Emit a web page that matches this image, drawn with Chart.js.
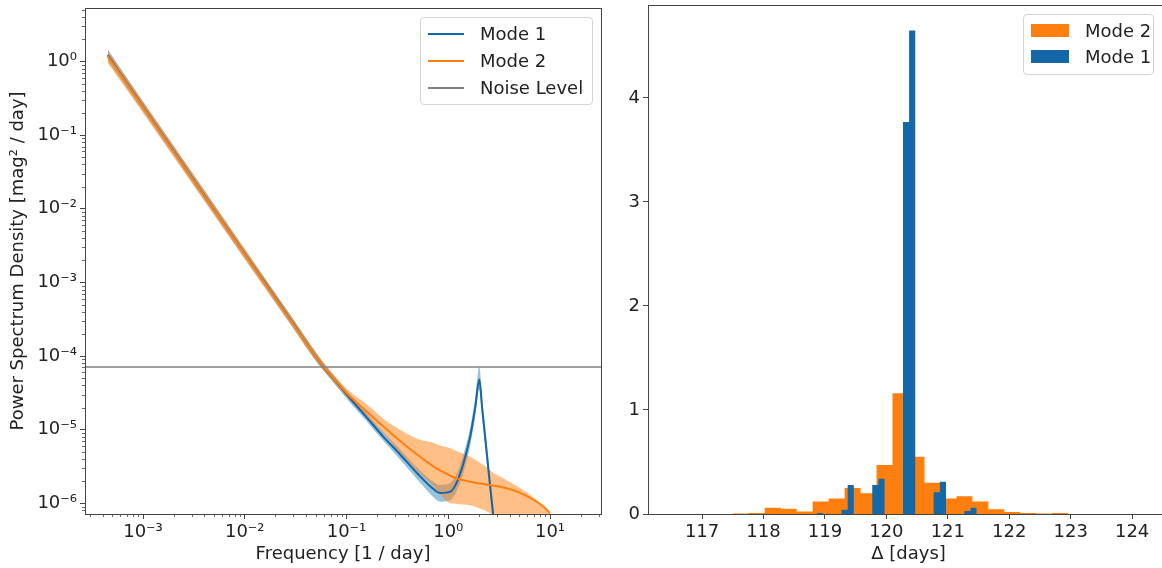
<!DOCTYPE html>
<html>
<head>
<meta charset="utf-8">
<script src="https://cdn.jsdelivr.net/npm/chart.js@4.4.1/dist/chart.umd.min.js"></script>
<style>
  html, body { margin: 0; padding: 0; background: #fff; overflow: hidden; width: 1162px; height: 568px; }
  #psdChart { position: absolute; left: 0; top: 0; }
  #histChart { position: absolute; left: 600px; top: 0; }
  .legend {
    position: absolute; box-sizing: border-box;
    background: rgba(255, 255, 255, 0.8); border: 1px solid #d4d4d4; border-radius: 4px;
    font-family: 'DejaVu Sans', sans-serif; font-size: 18px; color: #222;
  }
  .legend .row { display: flex; align-items: center; white-space: nowrap; }
  #psdLegend { left: 420px; top: 17px; width: 173px; height: 88px; padding-top: 2px; }
  #psdLegend .row { height: 27px; }
  #psdLegend .handle { width: 36px; height: 2px; margin: 0 16px 0 7px; }
  #histLegend { left: 1023px; top: 14px; width: 131px; height: 61px; padding-top: 2px; }
  #histLegend .row { height: 26.5px; }
  #histLegend .handle { width: 38px; height: 13px; margin: 0 16px 0 7px; }
</style>
</head>
<body>
<canvas id="psdChart" width="610" height="568"></canvas>
<canvas id="histChart" width="572" height="568"></canvas>
<div id="psdLegend" class="legend"></div>
<div id="histLegend" class="legend"></div>
<script>
// Power spectrum (left panel)
const freqs = [4.5e-4, 1e-3, 3e-3, 1e-2, 3e-2, 0.045, 0.0574, 0.08, 0.105, 0.159, 0.231, 0.337, 0.49, 0.72, 0.83, 1.05,
    1.22, 1.41, 1.64, 1.84, 2.02, 2.15, 2.3, 2.5, 2.75, 3.26, 4.78, 7.0, 8.7, 10.0];
const mode1Psd = [1.22, 0.245, 0.0272, 2.45e-3, 2.75e-4, 1.21e-4, 7.6e-5, 4.4e-5, 2.8e-5, 1.45e-5, 8e-6, 4.6e-6, 2.6e-6, 1.55e-6, 1.38e-6, 1.44e-6,
    1.96e-6, 3.5e-6, 8e-6, 2.0e-5, 4.8e-5, 2.0e-5, 8.1e-6, 2.6e-6, 7.4e-7, 7.5e-8, 1e-8, 4e-9, 3e-9, 2.5e-9];
const mode1Lo = [1.02, 0.21, 0.0235, 2.12e-3, 2.4e-4, 1.05e-4, 6.7e-5, 3.9e-5, 2.45e-5, 1.28e-5, 7e-6, 3.9e-6, 2.15e-6, 1.2e-6, 1.05e-6, 1.1e-6,
    1.5e-6, 2.6e-6, 6e-6, 1.5e-5, 3.5e-5, 1.5e-5, 6e-6, 1.9e-6, 5.3e-7, 5e-8, 7e-9, 3e-9, 2e-9, 1.8e-9];
const mode1Hi = [1.45, 0.285, 0.0315, 2.82e-3, 3.15e-4, 1.38e-4, 8.6e-5, 4.95e-5, 3.15e-5, 1.65e-5, 9.2e-6, 5.4e-6, 3.1e-6, 1.95e-6, 1.78e-6, 1.9e-6,
    2.6e-6, 4.6e-6, 1.05e-5, 2.7e-5, 7.2e-5, 2.7e-5, 1.1e-5, 3.5e-6, 1e-6, 1e-7, 1.4e-8, 5.5e-9, 4e-9, 3.5e-9];
const mode2Psd = [1.18, 0.24, 0.0268, 2.42e-3, 2.72e-4, 1.21e-4, 7.7e-5, 4.46e-5, 2.96e-5, 1.75e-5, 1.1e-5, 7.0e-6, 4.63e-6, 3.15e-6, 2.8e-6, 2.37e-6,
    2.18e-6, 2.06e-6, 1.96e-6, 1.9e-6, 1.87e-6, 1.85e-6, 1.82e-6, 1.79e-6, 1.75e-6, 1.68e-6, 1.44e-6, 1.1e-6, 8.9e-7, 7.4e-7];
const mode2Lo = [0.95, 0.2, 0.0225, 2.05e-3, 2.35e-4, 1.04e-4, 6.7e-5, 3.9e-5, 2.55e-5, 1.45e-5, 8.9e-6, 4.8e-6, 2.8e-6, 1.7e-6, 1.35e-6, 1.0e-6,
    9.8e-7, 9.6e-7, 9.4e-7, 9e-7, 8.6e-7, 8.3e-7, 8e-7, 7.5e-7, 7e-7, 6e-7, 4e-7, 2.5e-7, 1.8e-7, 1.5e-7];
const mode2Hi = [1.42, 0.285, 0.032, 2.85e-3, 3.15e-4, 1.38e-4, 8.7e-5, 5.0e-5, 3.4e-5, 2.2e-5, 1.4e-5, 1.0e-5, 7.6e-6, 6.6e-6, 6.1e-6, 5.6e-6,
    5.1e-6, 4.7e-6, 4.3e-6, 3.9e-6, 3.6e-6, 3.4e-6, 3.2e-6, 2.9e-6, 2.6e-6, 2.3e-6, 1.7e-6, 1.18e-6, 9.2e-7, 7.4e-7];
const noiseLevel = 7.1e-5;
const freqRange = [2.69e-4, 31.7];
const psdRange = [7.16e-7, 5.32];
const freqTicks = [1e-3, 1e-2, 1e-1, 1, 10];
const psdTicks = [1e-6, 1e-5, 1e-4, 1e-3, 1e-2, 1e-1, 1];

// Time delay histogram (right panel)
const mode2Edges = [117.50, 117.76, 118.02, 118.28, 118.54, 118.80, 119.06, 119.32, 119.58, 119.84, 120.10,
    120.36, 120.62, 120.88, 121.14, 121.40, 121.66, 121.92, 122.18, 122.44, 122.70, 122.96];
const mode2Density = [0.005, 0.01, 0.06, 0.05, 0.025, 0.12, 0.15, 0.25, 0.20, 0.47, 1.16,
    0.55, 0.30, 0.15, 0.17, 0.12, 0.045, 0.02, 0.01, 0.005, 0.01];
const mode1Edges = [118.87, 118.97, 119.07, 119.17, 119.27, 119.37, 119.47, 119.57, 119.67, 119.77, 119.87, 119.97, 120.07,
    120.17, 120.27, 120.37, 120.47, 120.57, 120.67, 120.77, 120.87, 120.97, 121.07, 121.17, 121.27, 121.37, 121.47];
const mode1Density = [0.01, 0, 0, 0, 0.04, 0.28, 0, 0, 0, 0.28, 0.34, 0, 0,
    0, 3.77, 4.65, 0, 0, 0, 0.21, 0.31, 0, 0, 0, 0.03, 0.06];
const delayRange = [116.12, 124.6];
const delayTicks = [117, 118, 119, 120, 121, 122, 123, 124];
const densityTicks = [0, 1, 2, 3, 4];
const densityMax = 4.894;

const BLUE = '#1468a8';
const ORANGE = '#ff7f0e';
const GREY = '#808080';
const AXIS = '#444';

Chart.defaults.font.family = "'DejaVu Sans', sans-serif";
Chart.defaults.font.size = 18;
Chart.defaults.color = '#222';

const SUP = { '-': '\u207b', '0': '\u2070', '1': '\u00b9', '2': '\u00b2', '3': '\u00b3',
    '4': '\u2074', '5': '\u2075', '6': '\u2076', '7': '\u2077', '8': '\u2078', '9': '\u2079' };
function powerLabel(value) {
    const e = String(Math.round(Math.log10(value)));
    return '10' + e.split('').map(c => SUP[c]).join('');
}

function minorValues(decades, range) {
    const out = [];
    [decades[0] / 10, ...decades].forEach(d => {
        for (let m = 2; m <= 9; m++) {
            const v = m * d;
            if (v > range[0] && v < range[1]) out.push(v);
        }
    });
    return out;
}

// Box round the plot area, like matplotlib spines
const frame = {
    id: 'frame',
    afterDatasetsDraw(chart) {
        const { ctx, chartArea: a } = chart;
        ctx.save();
        ctx.strokeStyle = AXIS;
        ctx.lineWidth = 1;
        ctx.strokeRect(Math.round(a.left) + 0.5, Math.round(a.top) + 0.5,
            Math.round(a.right - a.left), Math.round(a.bottom - a.top));
        ctx.restore();
    }
};

// Short minor tick marks for the log axes
const minorTicks = {
    id: 'minorTicks',
    afterDraw(chart, args, opts) {
        if (!opts || !opts.x) return;
        const { ctx, chartArea: a, scales } = chart;
        ctx.save();
        ctx.strokeStyle = AXIS;
        ctx.lineWidth = 0.8;
        ctx.beginPath();
        opts.x.forEach(v => {
            const px = Math.round(scales.x.getPixelForValue(v)) + 0.5;
            ctx.moveTo(px, a.bottom);
            ctx.lineTo(px, a.bottom + 3);
        });
        opts.y.forEach(v => {
            const py = Math.round(scales.y.getPixelForValue(v)) + 0.5;
            ctx.moveTo(a.left, py);
            ctx.lineTo(a.left - 3, py);
        });
        ctx.stroke();
        ctx.restore();
    }
};

function axisStyle() {
    return {
        border: { display: true, color: AXIS },
        grid: { display: true, drawOnChartArea: false, drawTicks: true, tickLength: 5, tickColor: AXIS }
    };
}

// pin the plot area: no extra room for the end labels
function fixWidth(w) {
    return s => { s.width = w; s.paddingTop = 0; s.paddingBottom = 0; };
}
function fixHeight(h) {
    return s => { s.height = h; s.paddingLeft = 0; s.paddingRight = 0; };
}

function toPoints(xs, ys) {
    return xs.map((x, i) => ({ x: x, y: ys[i] }));
}

// stepped 'after': each height is drawn from the previous edge up to its own right edge
function toSteps(edges, heights) {
    const pts = [{ x: edges[0], y: 0 }];
    heights.forEach((h, i) => pts.push({ x: edges[i + 1], y: h }));
    return pts;
}

function createPsdChart() {
    const curve = { pointRadius: 0, cubicInterpolationMode: 'monotone' };
    const band = Object.assign({ borderColor: 'rgba(0,0,0,0)', borderWidth: 0 }, curve);
    new Chart(document.getElementById('psdChart'), {
        type: 'line',
        data: {
            datasets: [
                Object.assign({ data: toPoints(freqs, mode1Hi), fill: false, order: 8 }, band),
                Object.assign({ data: toPoints(freqs, mode1Lo), fill: '-1', backgroundColor: 'rgba(31,119,180,0.45)', order: 7 }, band),
                Object.assign({ data: toPoints(freqs, mode2Hi), fill: false, order: 6 }, band),
                Object.assign({ data: toPoints(freqs, mode2Lo), fill: '-1', backgroundColor: 'rgba(255,127,14,0.5)', order: 5 }, band),
                Object.assign({ label: 'Mode 1', data: toPoints(freqs, mode1Psd), borderColor: BLUE, borderWidth: 2, fill: false, order: 4 }, curve),
                Object.assign({ label: 'Mode 2', data: toPoints(freqs, mode2Psd), borderColor: ORANGE, borderWidth: 2, fill: false, order: 3 }, curve),
                { label: 'Noise Level', data: toPoints(freqRange, [noiseLevel, noiseLevel]), borderColor: GREY, borderWidth: 1.5, pointRadius: 0, fill: false, order: 1 }
            ]
        },
        options: {
            responsive: false,
            animation: false,
            layout: { padding: { top: 8, right: 9, left: 0, bottom: 0 } },
            plugins: {
                legend: { display: false },
                tooltip: { enabled: false },
                minorTicks: { x: minorValues(freqTicks, freqRange), y: minorValues(psdTicks, psdRange) }
            },
            scales: {
                x: Object.assign(axisStyle(), {
                    type: 'logarithmic', min: freqRange[0], max: freqRange[1],
                    afterBuildTicks: s => { s.ticks = freqTicks.map(v => ({ value: v, major: true })); },
                    afterFit: fixHeight(54),
                    ticks: { autoSkip: false, maxRotation: 0, padding: 3, callback: powerLabel },
                    title: { display: true, text: 'Frequency [1 / day]', padding: { top: 0, bottom: 3 } }
                }),
                y: Object.assign(axisStyle(), {
                    type: 'logarithmic', min: psdRange[0], max: psdRange[1],
                    afterBuildTicks: s => { s.ticks = psdTicks.map(v => ({ value: v, major: true })); },
                    afterFit: fixWidth(85),
                    ticks: { autoSkip: false, padding: 3, callback: powerLabel },
                    title: { display: true, text: 'Power Spectrum Density [mag\u00b2 / day]', padding: { top: 8, bottom: 0 } }
                })
            }
        },
        plugins: [frame, minorTicks]
    });
}

function createHistChart() {
    const hist = { stepped: 'after', fill: 'origin', borderColor: 'rgba(0,0,0,0)', borderWidth: 0, pointRadius: 0 };
    new Chart(document.getElementById('histChart'), {
        type: 'line',
        data: {
            datasets: [
                Object.assign({ label: 'Mode 2', data: toSteps(mode2Edges, mode2Density), backgroundColor: ORANGE, order: 2 }, hist),
                Object.assign({ label: 'Mode 1', data: toSteps(mode1Edges, mode1Density), backgroundColor: BLUE, order: 1 }, hist)
            ]
        },
        options: {
            responsive: false,
            animation: false,
            layout: { padding: { top: 5, right: 3, left: 0, bottom: 0 } },
            plugins: { legend: { display: false }, tooltip: { enabled: false } },
            scales: {
                x: Object.assign(axisStyle(), {
                    type: 'linear', min: delayRange[0], max: delayRange[1],
                    afterBuildTicks: s => { s.ticks = delayTicks.map(v => ({ value: v })); },
                    afterFit: fixHeight(54),
                    ticks: { autoSkip: false, maxRotation: 0, padding: 3 },
                    title: { display: true, text: '\u0394 [days]', padding: { top: 0, bottom: 3 } }
                }),
                y: Object.assign(axisStyle(), {
                    type: 'linear', min: 0, max: densityMax,
                    afterBuildTicks: s => { s.ticks = densityTicks.map(v => ({ value: v })); },
                    afterFit: fixWidth(48),
                    ticks: { autoSkip: false, padding: 3 }
                })
            }
        },
        plugins: [frame]
    });
}

// Legends as boxes inside the plot, built from the entries
function buildLegend(id, entries) {
    const box = document.getElementById(id);
    entries.forEach(e => {
        const row = document.createElement('div');
        row.className = 'row';
        row.innerHTML = `<div class="handle" style="background:${e.color}"></div><span>${e.label}</span>`;
        box.appendChild(row);
    });
}

createPsdChart();
createHistChart();
buildLegend('psdLegend', [
    { label: 'Mode 1', color: BLUE },
    { label: 'Mode 2', color: ORANGE },
    { label: 'Noise Level', color: GREY }
]);
buildLegend('histLegend', [
    { label: 'Mode 2', color: ORANGE },
    { label: 'Mode 1', color: BLUE }
]);
</script>
</body>
</html>
